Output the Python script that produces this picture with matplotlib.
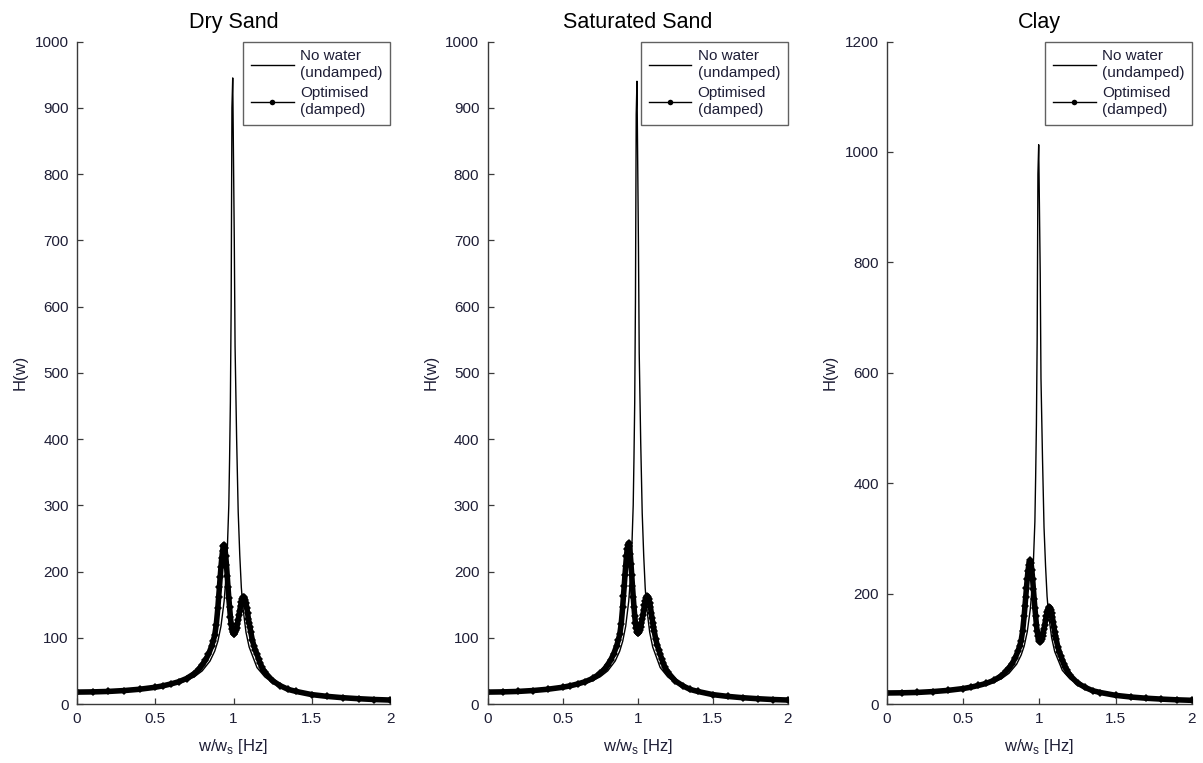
import matplotlib
matplotlib.use('Agg')
import matplotlib.pyplot as plt

plt.rcParams['font.family'] = ['Liberation Sans', 'DejaVu Sans']

# frequency ratio samples
ratio_undamped = [0, 0.1, 0.2, 0.3, 0.4, 0.5, 0.6, 0.7, 0.75, 0.8, 0.85, 0.88, 0.9,
                  0.92, 0.94, 0.95, 0.96, 0.97, 0.975, 0.98, 0.985, 0.99, 0.995,
                  1.005, 1.01, 1.02, 1.03, 1.04, 1.05, 1.06, 1.08, 1.1, 1.15, 1.2,
                  1.25, 1.3, 1.4, 1.5, 1.6, 1.7, 1.8, 1.9, 2.0]

ratio_damped = [0, 0.1, 0.2, 0.3, 0.4, 0.5, 0.55, 0.6, 0.65, 0.7, 0.75,
                0.78, 0.8, 0.82, 0.84, 0.86, 0.87, 0.88, 0.89,
                0.9, 0.905, 0.91, 0.915, 0.92, 0.925, 0.93, 0.935, 0.94, 0.945,
                0.95, 0.955, 0.96, 0.965, 0.97, 0.975, 0.98, 0.985, 0.99, 0.995,
                1.0, 1.005, 1.01, 1.015, 1.02, 1.025, 1.03, 1.035, 1.04, 1.045,
                1.05, 1.055, 1.06, 1.065, 1.07, 1.075, 1.08, 1.085, 1.09, 1.095,
                1.1, 1.105, 1.11,
                1.12, 1.13, 1.14, 1.15, 1.16, 1.17, 1.18, 1.19, 1.2,
                1.25, 1.3, 1.35, 1.4, 1.5, 1.6, 1.7, 1.8, 1.9, 2.0]

# dry sand
dry_undamped = [18, 18.2, 18.75, 19.8, 21.4, 24, 28.1, 35.3, 41.1, 50, 64.9, 79.8, 94.7,
                117.6, 155, 185, 230, 300, 370, 455, 600, 900, 945,
                700, 540, 400, 290, 225, 176, 146, 108, 86, 55, 41,
                32, 26, 18.7, 14.4, 11.5, 9.5, 8, 6.9, 6]
dry_damped = [18, 18.3, 19, 20.3, 22.3, 25.3, 27.5, 30.3, 33.6, 38.5, 46,
              53, 59, 66, 75, 87, 95, 104, 120,
              145, 161, 176, 192, 207, 220, 231, 238, 240, 235,
              224, 210, 193, 176, 160, 146, 132, 121, 113, 108,
              106, 106, 108, 111, 115, 121, 127, 134, 141, 148,
              154, 159, 161, 162, 160, 157, 152, 145, 137, 129,
              122, 116, 109,
              97, 88, 81, 75, 68, 62, 56, 51, 48,
              35, 27.5, 22, 19, 14.2, 11.5, 9.5, 8, 6.8, 6]

# saturated sand
sat_undamped = [18, 18.2, 18.75, 19.8, 21.4, 24, 28.1, 35.3, 41.1, 50, 64.9, 79.8, 94.7,
                117.6, 155, 185, 230, 300, 370, 455, 610, 890, 940,
                690, 530, 395, 288, 224, 175, 145, 108, 86, 55, 41,
                32, 26, 18.7, 14.4, 11.5, 9.5, 8, 6.9, 6]
sat_damped = [18, 18.3, 19, 20.3, 22.3, 25.3, 27.5, 30.3, 33.7, 38.6, 46.2,
              53.3, 59.5, 66.5, 75.8, 88, 96, 105, 121,
              147, 163, 178, 194, 209, 223, 234, 240, 243, 238,
              227, 212, 195, 178, 162, 147, 133, 122, 114, 109,
              107, 107, 109, 112, 116, 122, 128, 135, 142, 149,
              155, 160, 162, 163, 161, 158, 153, 146, 138, 130,
              123, 117, 110,
              98, 89, 82, 75, 68, 62, 56, 51, 48,
              35, 27.5, 22, 19, 14.2, 11.5, 9.5, 8, 6.8, 6]

# clay
clay_undamped = [20, 20.2, 20.8, 22, 23.8, 26.7, 31.2, 39.2, 45.7, 55.6, 72, 88.7, 105,
                 130.7, 172, 205, 255, 330, 410, 505, 660, 960, 1013,
                 780, 590, 445, 320, 250, 195, 162, 120, 95, 61, 45.5,
                 35.5, 29, 20.8, 16, 12.8, 10.5, 8.9, 7.7, 6.7]
clay_damped = [20, 20.3, 21, 22.5, 24.7, 28, 30.5, 33.6, 37.3, 42.7, 51,
               59, 65.5, 73, 83, 96.5, 105, 115, 133,
               160, 177, 194, 211, 227, 241, 252, 258, 260, 255,
               243, 227, 209, 191, 174, 159, 144, 132, 123, 117,
               114, 113, 115, 118, 123, 129, 136, 144, 152, 159,
               166, 171, 174, 176, 174, 170, 164, 157, 148, 139,
               131, 124, 117,
               104, 95, 87, 80, 73, 67, 61, 56, 52,
               38, 30, 24, 20.8, 15.7, 12.7, 10.5, 8.9, 7.6, 6.7]

titles = ['Dry Sand', 'Saturated Sand', 'Clay']
undamped_sets = [dry_undamped, sat_undamped, clay_undamped]
damped_sets = [dry_damped, sat_damped, clay_damped]
y_limits = [1000, 1000, 1200]
y_steps = [100, 100, 200]

# axes rectangles in figure fractions
positions = [[0.0640, 0.0773, 0.2602, 0.8683],
             [0.4054, 0.0773, 0.2494, 0.8683],
             [0.7373, 0.0773, 0.2535, 0.8683]]

text_col = '#1e1e36'
axis_col = '#3a3a3a'

fig = plt.figure(figsize=(12.03, 7.63), dpi=100)

for i in range(3):
    ax = fig.add_axes(positions[i])
    ax.plot(ratio_undamped, undamped_sets[i], color='black', lw=1.0,
            label='No water\n(undamped)')
    ax.plot(ratio_damped, damped_sets[i], color='black', lw=4.0,
            solid_capstyle='round', solid_joinstyle='round')
    ax.plot(ratio_damped, damped_sets[i], color='black', lw=1.0, marker='D',
            ms=3.6, mew=0, label='Optimised\n(damped)')

    ax.set_xlim(0, 2)
    ax.set_ylim(0, y_limits[i])
    ax.set_xticks([0, 0.5, 1, 1.5, 2])
    ax.set_xticklabels(['0', '0.5', '1', '1.5', '2'])
    ax.set_yticks(range(0, y_limits[i] + 1, y_steps[i]))

    for side in ['top', 'right']:
        ax.spines[side].set_visible(False)
    for side in ['left', 'bottom']:
        ax.spines[side].set_color(axis_col)
        ax.spines[side].set_linewidth(1.0)
    ax.tick_params(direction='in', length=4.5, width=0.9, color=axis_col,
                   labelsize=11, labelcolor=text_col, pad=6)

    ax.set_title(titles[i], fontsize=15.5, color='black', pad=10)
    ax.set_xlabel('w/w$_\\mathregular{s}$ [Hz]', fontsize=12, color=text_col,
                  labelpad=8)
    ax.set_ylabel('H(w)', fontsize=12, color=text_col, labelpad=5)

    handles, labels = ax.get_legend_handles_labels()
    leg = ax.legend(handles, labels, loc='upper right', bbox_to_anchor=(1.0, 1.0),
                    borderaxespad=0, fancybox=False, fontsize=11,
                    handlelength=2.8, handletextpad=0.4, borderpad=0.5,
                    labelspacing=0.35, labelcolor=text_col)
    leg.get_frame().set_edgecolor(axis_col)
    leg.get_frame().set_linewidth(1.0)
    for t in leg.get_texts():
        t.set_linespacing(1.3)
    for line in leg.get_lines():
        line.set_linewidth(1.0)
        line.set_markersize(4)
        line.set_marker(line.get_marker() if line.get_marker() != 'D' else 'o')

fig.savefig('out.png', dpi=100)
